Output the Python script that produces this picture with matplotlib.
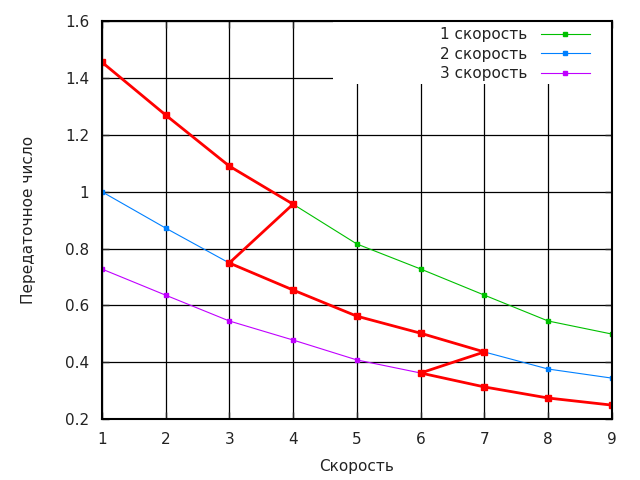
import numpy as np
import matplotlib.pyplot as plt
from matplotlib.patches import Rectangle
from matplotlib.ticker import FuncFormatter

speed = [1, 2, 3, 4, 5, 6, 7, 8, 9]
ratio1 = [1.456, 1.27, 1.09, 0.956, 0.816, 0.728, 0.636, 0.545, 0.499]
ratio2 = [1.0, 0.872, 0.749, 0.654, 0.562, 0.502, 0.436, 0.376, 0.344]
ratio3 = [0.728, 0.636, 0.545, 0.478, 0.408, 0.362, 0.313, 0.274, 0.249]
labels = ['1 скорость', '2 скорость', '3 скорость']
colors = ['#00c000', '#0080ff', '#c000ff']

# path of shifting: (range, gear)
shift_path = [(1, 1), (1, 2), (1, 3), (1, 4), (2, 3), (2, 4), (2, 5), (2, 6),
              (2, 7), (3, 6), (3, 7), (3, 8), (3, 9)]

plt.rcParams['font.family'] = 'DejaVu Sans'
fig = plt.figure(figsize=(6.4, 4.8), dpi=100)
ax = fig.add_axes([0.159, 0.127, 0.797, 0.829])

series = [ratio1, ratio2, ratio3]
for s, lab, c in zip(series, labels, colors):
    ax.plot(speed, s, color=c, lw=0.8, marker='s', ms=3.5, label=lab, zorder=3)

px = [speed[g - 1] for r, g in shift_path]
py = [series[r - 1][g - 1] for r, g in shift_path]
ax.plot(px, py, color='#ff0000', lw=2, marker='s', ms=5, zorder=4)

ax.set_xlim(1, 9)
ax.set_ylim(0.2, 1.6)
ax.set_xticks(speed)
ax.set_yticks(np.arange(0.2, 1.61, 0.2))
ax.yaxis.set_major_formatter(FuncFormatter(lambda v, p: '%g' % round(v, 2)))
ax.grid(True, color='black', lw=0.9, zorder=1)
ax.set_axisbelow(True)
ax.tick_params(direction='in', top=True, right=True, length=5, width=1,
               labelsize=11, colors='#222222', pad=9)
for sp in ax.spines.values():
    sp.set_linewidth(1.5)
    sp.set_zorder(6)

ax.set_xlabel('Скорость', fontsize=11, color='#222222', labelpad=9)
ax.set_ylabel('Передаточное число', fontsize=11, color='#222222', labelpad=21)

# white key area hiding the grid, like gnuplot
ax.add_patch(Rectangle((0.453, 0.842), 0.547, 0.158, transform=ax.transAxes,
                       facecolor='white', edgecolor='none', zorder=2))

leg = ax.legend(loc='upper right', bbox_to_anchor=(1 - 22 / 510, 1 - 6 / 398),
                markerfirst=False, frameon=False, fontsize=11,
                handlelength=3.2, handletextpad=0.9, borderaxespad=0,
                labelspacing=0.3, borderpad=0)
for t in leg.get_texts():
    t.set_color('#222222')

fig.savefig('out.png', dpi=100)
